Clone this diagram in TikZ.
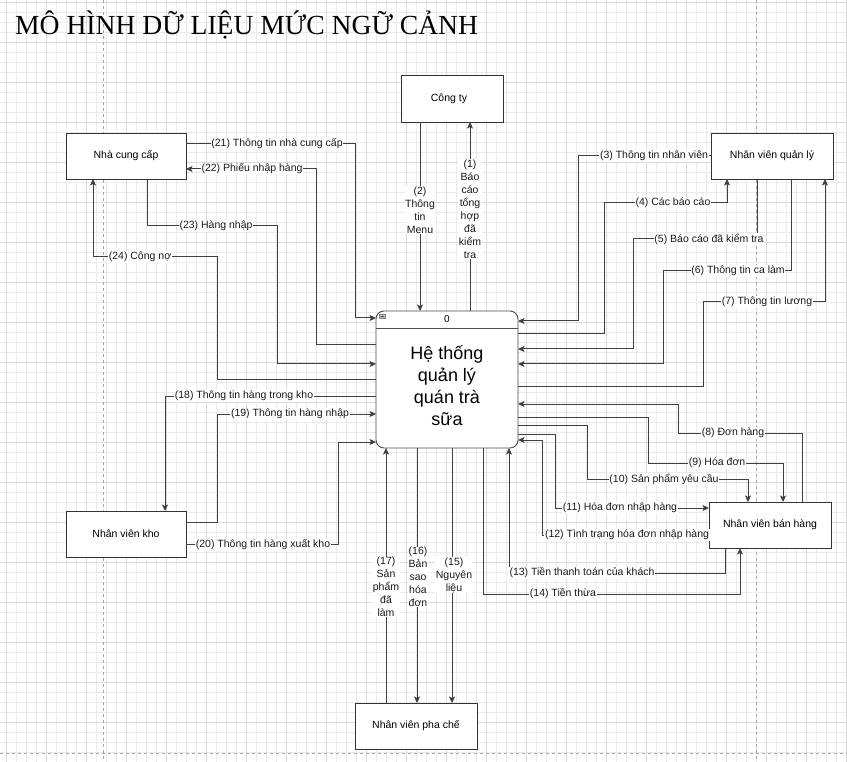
\documentclass[tikz,border=0pt]{standalone}
\usepackage{fontspec}
\setmainfont{Liberation Sans}
\newfontfamily\titlefont{Liberation Serif}
\usetikzlibrary{arrows.meta}
\begin{document}
\begin{tikzpicture}[x=1pt,y=-1pt,
  gridminor/.style={draw=black!8, line width=0.4pt},
  gridmajor/.style={draw=black!14, line width=0.5pt},
  pagebreak/.style={draw=black!35, line width=0.6pt, dash pattern=on 3pt off 3pt},
  box/.style={draw=black!80, line width=0.9pt, fill=white, minimum width=120pt, minimum height=46pt, inner sep=0pt, outer sep=0pt, font=\fontsize{10.5}{13}\selectfont},
  flow/.style={draw=black!75, line width=1pt, -{Stealth[length=6.5pt,width=6pt,inset=1.5pt]}},
  lab/.style={fill=white, inner sep=0.6pt, font=\fontsize{10.5}{13}\selectfont, align=center, text=black!90}]
\useasboundingbox (0,0) rectangle (847,762);
\fill[white] (0,0) rectangle (847,762);
% grid
\foreach \gx in {6,16,...,846} \draw[gridminor] (\gx,0) -- (\gx,762);
\foreach \gy in {2,12,...,762} \draw[gridminor] (0,\gy) -- (847,\gy);
\foreach \gx in {6,46,...,846} \draw[gridmajor] (\gx,0) -- (\gx,762);
\foreach \gy in {2,42,...,762} \draw[gridmajor] (0,\gy) -- (847,\gy);
% page breaks
\draw[pagebreak] (103,0) -- (103,762);
\draw[pagebreak] (756,0) -- (756,762);
\draw[pagebreak] (0,753) -- (847,753);

% title
\node[anchor=base west, inner sep=0pt, font=\titlefont\fontsize{27.6}{32}\selectfont] (title) at (15,35) {MÔ HÌNH DỮ LIỆU MỨC NGỮ CẢNH};

% external entities
\node[box, minimum width=102pt, minimum height=47pt] (congty) at (452,98.5) {Công ty\hspace*{6pt}};
\node[box] (ncc) at (126,156) {Nhà cung cấp};
\node[box, minimum width=122pt] (nvql) at (772,156) {Nhân viên quản lý};
\node[box, minimum width=122pt] (nvbh) at (770,525) {Nhân viên bán hàng};
\node[box] (nvkho) at (126,534) {Nhân viên kho};
\node[box, minimum width=122pt] (nvpc) at (416,726) {Nhân viên pha chế};

% process
\node[draw=black!70, line width=0.9pt, rounded corners=8pt, fill=white, minimum width=142pt, minimum height=137pt, inner sep=0pt, outer sep=0pt] (ht) at (447,379.5) {};
\draw[black!70, line width=0.9pt] (ht.west |- 0,328) -- (ht.east |- 0,328);
\node[font=\fontsize{10}{12}\selectfont, inner sep=0pt] (htid) at (447,319.5) {0};
\node[draw=black!50, fill=black!25, line width=0.4pt, minimum width=6pt, minimum height=4pt, inner sep=0pt] (hticon) at (382,316) {};
\draw[black!70, line width=0.6pt] ([xshift=-1.5pt]hticon.center) -- ([xshift=1.5pt]hticon.center);
\node[font=\fontsize{18}{22}\selectfont, align=center, inner sep=0pt] (httext) at (447,386) {Hệ thống\\quản lý\\quán trà\\sữa};

% ---- Công ty
\draw[flow] (ht.north -| 470,0) -- (congty.south -| 470,0);
\draw[flow] (congty.south -| 420,0) -- (ht.north -| 420,0);
% ---- Nhà cung cấp
\draw[flow] (ncc.east |- 0,144) -- (355,144) -- (355,318) -- (ht.west |- 0,318);
\draw[flow] (ht.west |- 0,345) -- (316,345) -- (316,169) -- (ncc.east |- 0,169);
\draw[flow] (ncc.south -| 147,0) -- (147,226) -- (277,226) -- (277,364) -- (ht.west |- 0,364);
\draw[flow] (ht.west |- 0,380) -- (217,380) -- (217,257) -- (93,257) -- (ncc.south -| 93,0);
% ---- Nhân viên kho
\draw[flow] (ht.west |- 0,396) -- (165,396) -- (nvkho.north -| 165,0);
\draw[flow] (nvkho.east |- 0,522) -- (217,522) -- (217,414) -- (ht.west |- 0,414);
\draw[flow] (nvkho.east |- 0,544) -- (338,544) -- (338,442) -- (ht.west |- 0,442);
% ---- Nhân viên pha chế
\draw[flow] (nvpc.north -| 386,0) -- (ht.south -| 386,0);
\draw[flow] (ht.south -| 417,0) -- (nvpc.north -| 417,0);
\draw[flow] (ht.south -| 452,0) -- (nvpc.north -| 452,0);
% ---- Nhân viên bán hàng (bottom)
\draw[flow] (ht.south -| 483,0) -- (483,594) -- (740,594) -- (nvbh.south -| 740,0);
\draw[flow] (nvbh.south -| 725,0) -- (725,573) -- (509,573) -- (ht.south -| 509,0);
% ---- Nhân viên quản lý
\draw[flow] (nvql.west |- 0,156) -- (578,156) -- (578,321) -- (ht.east |- 0,321);
\draw[flow] (ht.east |- 0,334) -- (604,334) -- (604,203) -- (727,203) -- (nvql.south -| 727,0);
\draw[flow] (nvql.south -| 757,0) -- (757,239) -- (633,239) -- (633,349) -- (ht.east |- 0,349);
\draw[flow] (nvql.south -| 791,0) -- (791,271) -- (663,271) -- (663,364) -- (ht.east |- 0,364);
\draw[flow] (ht.east |- 0,387) -- (703,387) -- (703,302) -- (825,302) -- (nvql.south -| 825,0);
% ---- Nhân viên bán hàng (right)
\draw[flow] (nvbh.north -| 802,0) -- (802,433) -- (678,433) -- (678,404) -- (ht.east |- 0,404);
\draw[flow] (ht.east |- 0,417) -- (648,417) -- (648,463) -- (783,463) -- (nvbh.north -| 783,0);
\draw[flow] (ht.east |- 0,425) -- (587,425) -- (587,479) -- (748,479) -- (nvbh.north -| 748,0);
\draw[flow] (ht.east |- 0,434) -- (555,434) -- (555,508) -- (nvbh.west |- 0,508);
\draw[flow] (nvbh.west |- 0,535) -- (542,535) -- (542,440) -- (ht.east |- 0,440);

% ---- labels
\node[lab] (l1) at (470,209) {(1)\\Báo\\cáo\\tổng\\hợp\\đã\\kiểm\\tra};
\node[lab] (l2) at (420,210) {(2)\\Thông\\tin\\Menu};
\node[lab] (l3) at (654,156) {(3) Thông tin nhân viên};
\node[lab] (l4) at (673,203) {(4) Các báo cáo};
\node[lab] (l5) at (709,239) {(5) Báo cáo đã kiểm tra};
\node[lab] (l6) at (738,271) {(6) Thông tin ca làm};
\node[lab] (l7) at (767,302) {(7) Thông tin lương};
\node[lab] (l8) at (733,433) {(8) Đơn hàng};
\node[lab] (l9) at (717,463) {(9) Hóa đơn};
\node[lab] (l10) at (664,479) {(10) Sản phẩm yêu cầu};
\node[lab] (l11) at (620,508) {(11) Hóa đơn nhập hàng};
\node[lab] (l12) at (627,535) {(12) Tình trạng hóa đơn nhập hàng};
\node[lab] (l13) at (582,573) {(13) Tiền thanh toán của khách};
\node[lab] (l14) at (563,594) {(14) Tiền thừa};
\node[lab] (l15) at (454,575) {(15)\\Nguyên\\liệu};
\node[lab] (l16) at (418,577) {(16)\\Bản\\sao\\hóa\\đơn};
\node[lab] (l17) at (386,587) {(17)\\Sản\\phẩm\\đã\\làm};
\node[lab] (l18) at (244,396) {(18) Thông tin hàng trong kho};
\node[lab] (l19) at (290,414) {(19) Thông tin hàng nhập};
\node[lab] (l20) at (263,545) {(20) Thông tin hàng xuất kho};
\node[lab] (l21) at (277,144) {(21) Thông tin nhà cung cấp};
\node[lab] (l22) at (252,169) {(22) Phiếu nhập hàng};
\node[lab] (l23) at (216,226) {(23) Hàng nhập};
\node[lab] (l24) at (140,257) {(24) Công nợ};
\end{tikzpicture}
\end{document}
